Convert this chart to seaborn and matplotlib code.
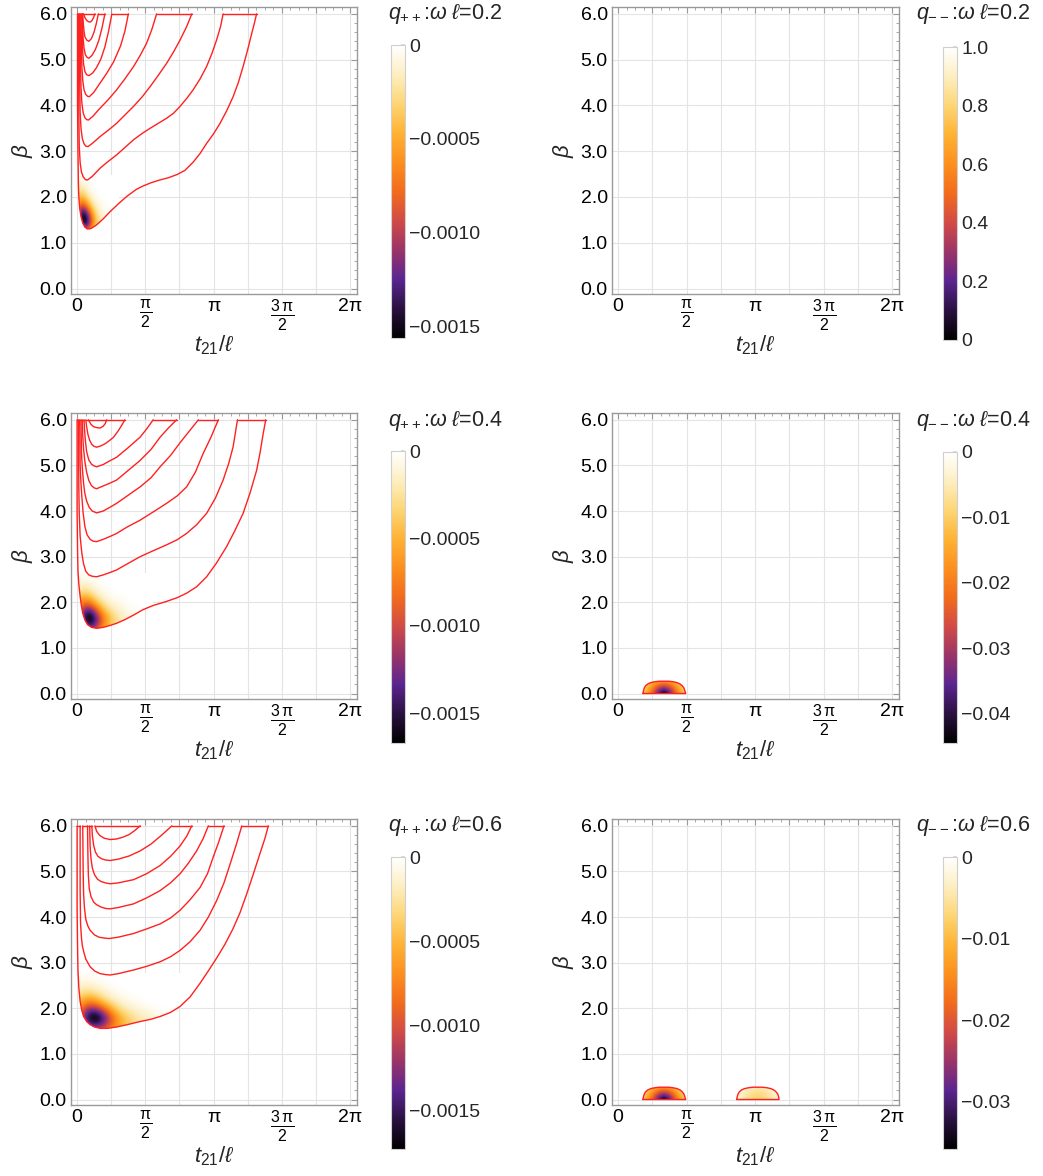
import numpy as np
import pandas as pd
import matplotlib
matplotlib.use("Agg")
import matplotlib.pyplot as plt
import seaborn as sns
from matplotlib.colors import LinearSegmentedColormap, Normalize
from matplotlib.cm import ScalarMappable
from matplotlib.patches import Polygon
from matplotlib.ticker import MultipleLocator

sns.set_theme(style="white")
plt.rcParams['font.family'] = ['Liberation Sans', 'DejaVu Sans']
plt.rcParams['mathtext.fontset'] = 'custom'
plt.rcParams['mathtext.rm'] = 'Liberation Sans'
plt.rcParams['mathtext.it'] = 'Liberation Sans:italic'
plt.rcParams['mathtext.bf'] = 'Liberation Sans:bold'

# ---------------- data ----------------
OMEGAS = ["0.2", "0.4", "0.6"]

# q++ contour curves (t21/l, beta) for each omega
P1_T = [
    [0.01,0.01,0.02,0.03,0.04,0.06,0.09,0.13,0.18,0.24,0.32,0.45,0.60,0.76,0.95,1.14,1.37,1.52,1.70,1.90,2.10,2.30,2.48,2.67,2.83,2.98,3.14,3.29,3.44,3.59,3.71,3.82,3.92,4.02,4.08,4.13],
    [0.03,0.04,0.05,0.07,0.10,0.14,0.19,0.24,0.35,0.53,0.72,0.91,1.10,1.30,1.50,1.68,1.87,2.06,2.22,2.37,2.52,2.67,2.83,2.98,3.10,3.21,3.30,3.36],
    [0.05,0.06,0.07,0.09,0.12,0.16,0.20,0.25,0.35,0.53,0.72,0.91,1.10,1.30,1.50,1.68,1.87,2.06,2.22,2.37,2.52,2.64],
    [0.07,0.08,0.09,0.11,0.14,0.18,0.22,0.26,0.36,0.53,0.72,0.91,1.10,1.30,1.45,1.60,1.72,1.83],
    [0.09,0.10,0.11,0.13,0.16,0.20,0.24,0.28,0.38,0.53,0.68,0.84,1.00,1.10,1.18],
    [0.11,0.12,0.13,0.15,0.18,0.22,0.27,0.36,0.45,0.55,0.64,0.72,0.80],
    [0.12,0.13,0.14,0.16,0.19,0.23,0.27,0.34,0.42,0.50,0.57,0.64],
    [0.13,0.14,0.16,0.18,0.22,0.27,0.33,0.39,0.44,0.49],
    [0.15,0.18,0.22,0.26,0.30,0.34,0.38,0.41],
]
P1_B = [
    [6.0,4.0,3.0,2.3,2.0,1.75,1.57,1.43,1.34,1.30,1.31,1.39,1.52,1.68,1.85,2.01,2.17,2.24,2.31,2.37,2.42,2.49,2.58,2.76,2.95,3.17,3.38,3.61,3.88,4.19,4.50,4.85,5.20,5.58,5.80,6.0],
    [6.0,3.8,3.1,2.75,2.55,2.44,2.38,2.37,2.45,2.63,2.78,2.92,3.08,3.25,3.39,3.50,3.61,3.72,3.83,3.98,4.15,4.34,4.58,4.85,5.13,5.43,5.72,6.0],
    [6.0,4.5,3.85,3.5,3.28,3.16,3.11,3.10,3.17,3.32,3.46,3.61,3.79,3.98,4.19,4.41,4.66,4.92,5.17,5.43,5.72,6.0],
    [6.0,4.9,4.4,4.05,3.84,3.73,3.69,3.68,3.76,3.94,4.13,4.34,4.58,4.85,5.09,5.36,5.66,6.0],
    [6.0,5.3,4.85,4.55,4.34,4.24,4.20,4.19,4.28,4.49,4.70,4.95,5.30,5.62,6.0],
    [6.0,5.5,5.15,4.9,4.74,4.67,4.65,4.71,4.83,5.02,5.28,5.6,6.0],
    [6.0,5.7,5.45,5.25,5.11,5.05,5.03,5.09,5.22,5.42,5.68,6.0],
    [6.0,5.82,5.62,5.5,5.43,5.40,5.46,5.6,5.78,6.0],
    [6.0,5.92,5.86,5.83,5.82,5.85,5.92,6.0],
]
P3_T = [
    [0.0,0.0,0.01,0.02,0.04,0.07,0.10,0.13,0.18,0.24,0.33,0.45,0.60,0.75,0.91,1.10,1.30,1.52,1.75,2.06,2.30,2.52,2.75,2.98,3.20,3.44,3.63,3.82,3.98,4.13,4.21,4.28,4.34],
    [0.03,0.04,0.05,0.07,0.11,0.15,0.20,0.27,0.35,0.45,0.60,0.75,0.91,1.15,1.45,1.75,2.06,2.30,2.52,2.75,2.98,3.18,3.36,3.49,3.59,3.69],
    [0.06,0.07,0.09,0.11,0.14,0.18,0.23,0.30,0.37,0.45,0.60,0.75,0.91,1.15,1.45,1.75,2.06,2.30,2.52,2.72,2.90,3.08,3.25],
    [0.09,0.10,0.12,0.15,0.18,0.22,0.28,0.35,0.45,0.60,0.75,0.91,1.15,1.45,1.70,1.91,2.15,2.37,2.58,2.79],
    [0.12,0.13,0.15,0.18,0.22,0.27,0.33,0.39,0.45,0.60,0.75,0.91,1.15,1.45,1.70,1.91,2.10,2.29],
    [0.16,0.17,0.19,0.22,0.27,0.33,0.39,0.45,0.60,0.75,0.91,1.15,1.45,1.60,1.75],
    [0.20,0.22,0.25,0.29,0.34,0.39,0.45,0.55,0.65,0.75,0.84,0.94,1.02,1.10],
    [0.26,0.32,0.38,0.45,0.53,0.60,0.65,0.68],
]
P3_B = [
    [6.0,4.0,3.2,2.7,2.4,2.13,1.92,1.76,1.61,1.51,1.45,1.43,1.45,1.49,1.54,1.62,1.72,1.84,1.93,2.02,2.10,2.20,2.34,2.56,2.85,3.22,3.57,3.95,4.40,4.89,5.28,5.69,6.0],
    [6.0,4.5,3.95,3.45,3.07,2.84,2.68,2.60,2.57,2.56,2.60,2.65,2.71,2.84,3.0,3.13,3.26,3.37,3.51,3.70,3.95,4.28,4.68,5.05,5.41,6.0],
    [6.0,5.0,4.6,4.31,3.95,3.66,3.48,3.38,3.34,3.33,3.38,3.44,3.51,3.65,3.80,3.98,4.17,4.33,4.53,4.85,5.26,5.62,6.0],
    [6.0,5.3,4.95,4.6,4.38,4.22,4.08,4.0,3.96,4.0,4.08,4.17,4.33,4.53,4.73,4.97,5.22,5.5,5.75,6.0],
    [6.0,5.65,5.35,5.08,4.85,4.67,4.56,4.51,4.49,4.55,4.61,4.68,4.87,5.11,5.35,5.62,5.82,6.0],
    [6.0,5.8,5.55,5.3,5.12,5.03,4.99,4.97,5.02,5.1,5.18,5.37,5.62,5.8,6.0],
    [6.0,5.85,5.68,5.55,5.46,5.42,5.40,5.43,5.48,5.55,5.62,5.75,5.87,6.0],
    [6.0,5.9,5.85,5.83,5.82,5.86,5.92,6.0],
]
P5_T = [
    [0.0,0.0,0.01,0.02,0.04,0.07,0.11,0.15,0.22,0.30,0.40,0.53,0.70,0.91,1.15,1.45,1.70,1.91,2.15,2.37,2.60,2.83,3.02,3.21,3.40,3.59,3.75,3.90,4.05,4.21,4.32,4.40],
    [0.07,0.07,0.08,0.10,0.12,0.15,0.20,0.30,0.40,0.53,0.65,0.76,0.95,1.30,1.60,1.91,2.15,2.37,2.60,2.83,3.02,3.21,3.38,3.52,3.66,3.79],
    [0.13,0.14,0.15,0.17,0.20,0.25,0.30,0.40,0.50,0.62,0.74,0.95,1.30,1.60,1.91,2.15,2.37,2.60,2.83,3.00,3.13,3.26,3.38],
    [0.24,0.25,0.26,0.28,0.32,0.38,0.45,0.55,0.65,0.76,0.95,1.30,1.60,1.91,2.15,2.37,2.56,2.75,2.90,3.02],
    [0.29,0.30,0.32,0.35,0.40,0.47,0.55,0.65,0.76,0.95,1.30,1.60,1.91,2.15,2.37,2.52,2.64],
    [0.34,0.35,0.38,0.42,0.48,0.56,0.66,0.76,0.95,1.20,1.45,1.70,1.95,2.18],
    [0.41,0.45,0.52,0.62,0.76,0.90,1.05,1.20,1.33,1.45],
]
P5_B = [
    [6.0,4.2,3.4,2.85,2.45,2.15,1.95,1.82,1.71,1.64,1.59,1.56,1.56,1.59,1.64,1.71,1.76,1.82,1.91,2.04,2.25,2.55,2.82,3.1,3.4,3.75,4.1,4.5,4.93,5.4,5.72,6.0],
    [6.0,4.6,3.85,3.55,3.38,3.25,3.08,2.91,2.82,2.76,2.74,2.73,2.76,2.84,2.92,3.02,3.13,3.27,3.46,3.71,4.0,4.36,4.75,5.16,5.58,6.0],
    [6.0,5.0,4.5,4.2,3.95,3.8,3.71,3.61,3.56,3.54,3.53,3.56,3.64,3.74,3.85,3.98,4.15,4.38,4.65,4.95,5.31,5.65,6.0],
    [6.0,5.3,4.9,4.62,4.45,4.33,4.27,4.22,4.19,4.18,4.21,4.29,4.42,4.58,4.75,4.95,5.18,5.45,5.72,6.0],
    [6.0,5.55,5.28,5.08,4.93,4.83,4.78,4.75,4.73,4.75,4.82,4.95,5.13,5.33,5.56,5.77,6.0],
    [6.0,5.8,5.58,5.43,5.33,5.28,5.25,5.24,5.27,5.34,5.45,5.6,5.8,6.0],
    [6.0,5.88,5.79,5.73,5.70,5.71,5.75,5.81,5.9,6.0],
]
# curves joined along the top edge (bands); a lone index is closed on itself
P1_GROUPS = [(0, 1), (2, 3), (4, 5), (6, 7), (8,)]
P3_GROUPS = [(0, 1), (2, 3), (4, 5), (6, 7), (7,)]
P5_GROUPS = [(0, 1), (2, 3), (4, 5), (6,)]

# q++ density (fraction of colour-scale minimum) on regular grids
P1_GT = [0.0, 0.1, 0.2, 0.3, 0.4, 0.5, 0.6, 0.7, 0.8, 0.9]
P1_GB = [1.20, 1.35, 1.50, 1.65, 1.80, 1.95, 2.10, 2.25, 2.40]
P1_F = [
    [0.10,0.22,0.28,0.22,0.12,0.06,0.03,0.01,0.00,0.00],
    [0.30,0.65,0.80,0.55,0.28,0.13,0.06,0.03,0.01,0.00],
    [0.40,0.95,1.05,0.65,0.32,0.15,0.08,0.04,0.02,0.00],
    [0.40,0.95,0.85,0.48,0.22,0.10,0.05,0.02,0.01,0.00],
    [0.32,0.62,0.50,0.28,0.12,0.05,0.02,0.01,0.00,0.00],
    [0.22,0.36,0.26,0.12,0.05,0.02,0.01,0.00,0.00,0.00],
    [0.14,0.20,0.12,0.05,0.02,0.00,0.00,0.00,0.00,0.00],
    [0.07,0.09,0.05,0.02,0.00,0.00,0.00,0.00,0.00,0.00],
    [0.02,0.03,0.01,0.00,0.00,0.00,0.00,0.00,0.00,0.00],
]
P3_GT = [0.00,0.15,0.30,0.45,0.60,0.75,0.90,1.05,1.20,1.35,1.50,1.65]
P3_GB = [1.35,1.50,1.65,1.80,1.95,2.10,2.25,2.40,2.55]
P3_F = [
    [0.15,0.38,0.60,0.48,0.30,0.18,0.12,0.08,0.05,0.03,0.02,0.00],
    [0.28,0.70,0.92,0.70,0.42,0.26,0.16,0.10,0.06,0.04,0.02,0.00],
    [0.32,0.90,1.06,0.78,0.44,0.26,0.15,0.10,0.06,0.03,0.01,0.00],
    [0.32,0.78,0.86,0.55,0.30,0.17,0.10,0.06,0.03,0.02,0.00,0.00],
    [0.26,0.54,0.50,0.30,0.16,0.08,0.05,0.03,0.01,0.00,0.00,0.00],
    [0.18,0.34,0.27,0.14,0.07,0.03,0.02,0.01,0.00,0.00,0.00,0.00],
    [0.10,0.17,0.12,0.06,0.03,0.01,0.00,0.00,0.00,0.00,0.00,0.00],
    [0.05,0.08,0.05,0.02,0.01,0.00,0.00,0.00,0.00,0.00,0.00,0.00],
    [0.01,0.02,0.01,0.00,0.00,0.00,0.00,0.00,0.00,0.00,0.00,0.00],
]
P5_GT = [0.0,0.2,0.4,0.6,0.8,1.0,1.2,1.4,1.6,1.8,2.0,2.2,2.4]
P5_GB = [1.50,1.65,1.80,1.95,2.10,2.25,2.40,2.55,2.70]
P5_F = [
    [0.18,0.40,0.55,0.48,0.36,0.26,0.18,0.13,0.09,0.06,0.04,0.02,0.00],
    [0.30,0.70,0.88,0.72,0.48,0.32,0.21,0.15,0.10,0.07,0.04,0.02,0.00],
    [0.35,0.88,1.06,0.86,0.50,0.30,0.19,0.13,0.09,0.05,0.03,0.01,0.00],
    [0.33,0.75,0.86,0.62,0.35,0.19,0.12,0.08,0.05,0.02,0.01,0.00,0.00],
    [0.26,0.50,0.50,0.32,0.18,0.09,0.05,0.03,0.01,0.00,0.00,0.00,0.00],
    [0.17,0.30,0.26,0.15,0.08,0.04,0.02,0.00,0.00,0.00,0.00,0.00,0.00],
    [0.10,0.15,0.12,0.07,0.03,0.01,0.00,0.00,0.00,0.00,0.00,0.00,0.00],
    [0.05,0.07,0.05,0.02,0.01,0.00,0.00,0.00,0.00,0.00,0.00,0.00,0.00],
    [0.01,0.02,0.01,0.00,0.00,0.00,0.00,0.00,0.00,0.00,0.00,0.00,0.00],
]

# q-- domes (outline) and density grids
DOME_A_T = [0.57,0.58,0.60,0.63,0.68,0.75,0.85,0.95,1.05,1.15,1.25,1.35,1.42,1.47,1.51,1.53,1.55]
DOME_A_B = [0.0,0.06,0.12,0.17,0.21,0.24,0.26,0.27,0.27,0.27,0.26,0.24,0.21,0.17,0.12,0.06,0.0]
DOME_B_T = [2.72,2.73,2.75,2.78,2.83,2.90,3.00,3.10,3.20,3.30,3.40,3.50,3.57,3.62,3.66,3.68,3.69]
DOME_B_B = [0.0,0.06,0.12,0.17,0.21,0.24,0.26,0.27,0.27,0.27,0.26,0.24,0.21,0.17,0.12,0.06,0.0]
DOME_A_GT = [0.55,0.65,0.75,0.85,0.95,1.05,1.15,1.25,1.35,1.45,1.55]
DOME_B_GT = [2.70,2.80,2.90,3.00,3.10,3.20,3.30,3.40,3.50,3.60,3.70]
DOME_GB = [0.0,0.1,0.2,0.3]
DOME_A_F = [
    [0.22,0.33,0.48,0.68,0.90,1.05,0.90,0.68,0.48,0.33,0.22],
    [0.19,0.28,0.40,0.56,0.70,0.78,0.70,0.56,0.40,0.28,0.19],
    [0.15,0.21,0.30,0.40,0.48,0.51,0.48,0.40,0.30,0.21,0.15],
    [0.10,0.14,0.20,0.26,0.30,0.32,0.30,0.26,0.20,0.14,0.10],
]
DOME_B_F = [
    [0.06,0.10,0.14,0.18,0.21,0.22,0.21,0.18,0.14,0.10,0.06],
    [0.05,0.09,0.12,0.16,0.18,0.19,0.18,0.16,0.12,0.09,0.05],
    [0.04,0.07,0.10,0.12,0.14,0.15,0.14,0.12,0.10,0.07,0.04],
    [0.03,0.05,0.07,0.08,0.09,0.10,0.09,0.08,0.07,0.05,0.03],
]

# colour scales
QPP_VMIN = [-0.00156, -0.00167, -0.00173]
QMM_VMIN = [None, -0.0445, -0.0358]
QPP_TICKS = [0, -0.0005, -0.0010, -0.0015]
QPP_TLAB = ["0", "\u22120.0005", "\u22120.0010", "\u22120.0015"]
QMM_TICKS = [[0, 0.2, 0.4, 0.6, 0.8, 1.0], [0, -0.01, -0.02, -0.03, -0.04], [0, -0.01, -0.02, -0.03]]
QMM_TLAB = [["0", "0.2", "0.4", "0.6", "0.8", "1.0"],
            ["0", "\u22120.01", "\u22120.02", "\u22120.03", "\u22120.04"],
            ["0", "\u22120.01", "\u22120.02", "\u22120.03"]]

XT_POS = [k * np.pi / 4 for k in range(9)]
XT_LAB = ["0", "", r"$\frac{\mathrm{\pi}}{2}$", "", "π", "", r"$\frac{3\,\mathrm{\pi}}{2}$", "", "2π"]
YT_POS = [0, 1, 2, 3, 4, 5, 6]
YT_LAB = ["0.0", "1.0", "2.0", "3.0", "4.0", "5.0", "6.0"]

# ---------------- styling ----------------
SUNSET = LinearSegmentedColormap.from_list("sunset", [
    (0.0, "#000000"), (0.1, "#2a1140"), (0.2, "#5b2590"), (0.3, "#9a3468"),
    (0.4, "#d14a46"), (0.5, "#f26b1c"), (0.6, "#fc8f1e"), (0.7, "#feb233"),
    (0.8, "#fdd574"), (0.9, "#fdeec0"), (1.0, "#ffffff")])
RED = "#ff2020"
FRAME = "#9a9a9a"
W, H = 1043, 1176

fig = plt.figure(figsize=(W / 100, H / 100), dpi=100)

AX_Y = [(7, 294), (413, 699), (819, 1105)]
AX_X = [(71, 357), (612, 899)]
CB_X = [(391, 405), (943, 957)]
CB_Y = [[(45, 338), (451, 743), (857, 1149)], [(47, 340), (452, 743), (857, 1149)]]
TITLE_X = [388, 916]
TITLE_Y = [14, 421, 826]


def fig_rect(x0, x1, y0, y1):
    return [x0 / W, 1 - y1 / H, (x1 - x0) / W, (y1 - y0) / H]


def style_axes(ax):
    ax.set_xlim(-0.14, 6.44)
    ax.set_ylim(-0.12, 6.15)
    ax.set_xticks(XT_POS)
    ax.set_xticklabels(XT_LAB)
    ax.xaxis.set_minor_locator(MultipleLocator(np.pi / 16))
    ax.set_yticks(YT_POS)
    ax.set_yticklabels(YT_LAB)
    ax.yaxis.set_minor_locator(MultipleLocator(0.2))
    ax.tick_params(which="both", direction="in", top=True, right=True,
                   color=FRAME, labelcolor="black", labelsize=14)
    ax.tick_params(which="major", length=4, width=0.8, pad=3)
    ax.tick_params(which="minor", length=2, width=0.6)
    for lab in ax.get_xticklabels():
        if "frac" in lab.get_text():
            lab.set_fontsize(16.5)
    for s in ax.spines.values():
        s.set_color(FRAME)
        s.set_linewidth(1.0)
    ax.grid(True, which="major", color="#e4e4e4", linewidth=0.8)
    ax.set_axisbelow(True)
    ax.set_xlabel(r"$t_{21}/\ell$", fontsize=16, labelpad=0)
    ax.set_ylabel(r"$\beta$", fontsize=16, labelpad=3)


def line(ax, t, b):
    df = pd.DataFrame({"t": t, "b": b})
    sns.lineplot(data=df, x="t", y="b", sort=False, estimator=None,
                 color=RED, linewidth=1.0, ax=ax, zorder=5)


def field(ax, gt, gb, frac, vmin, clip_t, clip_b):
    gt = np.asarray(gt); gb = np.asarray(gb)
    dt = gt[1] - gt[0]; db = gb[1] - gb[0]
    im = ax.imshow(np.asarray(frac) * vmin, origin="lower", aspect="auto",
                   extent=[gt[0] - dt / 2, gt[-1] + dt / 2, gb[0] - db / 2, gb[-1] + db / 2],
                   cmap=SUNSET, vmin=vmin, vmax=0, interpolation="bicubic", zorder=2)
    poly = Polygon(np.column_stack([clip_t, clip_b]), closed=True, transform=ax.transData)
    im.set_clip_path(poly)


def colorbar(ci, ri, vmin, vmax, ticks, labels):
    x0, x1 = CB_X[ci]
    y0, y1 = CB_Y[ci][ri]
    cax = fig.add_axes(fig_rect(x0, x1, y0, y1))
    cb = fig.colorbar(ScalarMappable(norm=Normalize(vmin, vmax), cmap=SUNSET), cax=cax)
    cb.set_ticks(ticks, labels=labels)
    cb.outline.set_edgecolor("#cfcfcf")
    cb.outline.set_linewidth(0.8)
    cax.tick_params(length=3, color="#d8d8d8", direction="in", labelsize=14, pad=3)


QPP = [(P1_T, P1_B, P1_GROUPS, P1_GT, P1_GB, P1_F),
       (P3_T, P3_B, P3_GROUPS, P3_GT, P3_GB, P3_F),
       (P5_T, P5_B, P5_GROUPS, P5_GT, P5_GB, P5_F)]

for r in range(3):
    # ---- q++ panel ----
    ax = fig.add_axes(fig_rect(AX_X[0][0], AX_X[0][1], *AX_Y[r]))
    CT, CB, GROUPS, GT, GB, F = QPP[r]
    band_t = list(CT[0]) + list(CT[1])[::-1]
    band_b = list(CB[0]) + list(CB[1])[::-1]
    field(ax, GT, GB, F, QPP_VMIN[r], band_t, band_b)
    for t, b in zip(CT, CB):
        line(ax, t, b)
    for g in GROUPS:
        if len(g) == 2:
            i, j = g
            line(ax, [CT[i][-1], CT[j][-1]], [CB[i][-1], CB[j][-1]])
            line(ax, [CT[i][0], CT[j][0]], [CB[i][0], CB[j][0]])
        else:
            i = g[0]
            line(ax, [CT[i][0], CT[i][-1]], [CB[i][0], CB[i][-1]])
    style_axes(ax)
    fig.text(TITLE_X[0] / W, 1 - TITLE_Y[r] / H, r"$q_{++}$:$\omega\ \ell$=" + OMEGAS[r],
             fontsize=15.5, ha="left", va="center")
    colorbar(0, r, QPP_VMIN[r], 0, QPP_TICKS, QPP_TLAB)

    # ---- q-- panel ----
    ax2 = fig.add_axes(fig_rect(AX_X[1][0], AX_X[1][1], *AX_Y[r]))
    if r >= 1:
        domes = [(DOME_A_T, DOME_A_B, DOME_A_GT, DOME_A_F)]
        if r == 2:
            domes.append((DOME_B_T, DOME_B_B, DOME_B_GT, DOME_B_F))
        for dt_, db_, gt_, f_ in domes:
            field(ax2, gt_, DOME_GB, f_, QMM_VMIN[r], dt_, db_)
            line(ax2, list(dt_) + [dt_[0]], list(db_) + [db_[0]])
    style_axes(ax2)
    fig.text(TITLE_X[1] / W, 1 - TITLE_Y[r] / H, r"$q_{--}$:$\omega\ \ell$=" + OMEGAS[r],
             fontsize=15.5, ha="left", va="center")
    if r == 0:
        colorbar(1, r, 0, 1.0, QMM_TICKS[0], QMM_TLAB[0])
    else:
        colorbar(1, r, QMM_VMIN[r], 0, QMM_TICKS[r], QMM_TLAB[r])

fig.savefig("out.png", dpi=100)
